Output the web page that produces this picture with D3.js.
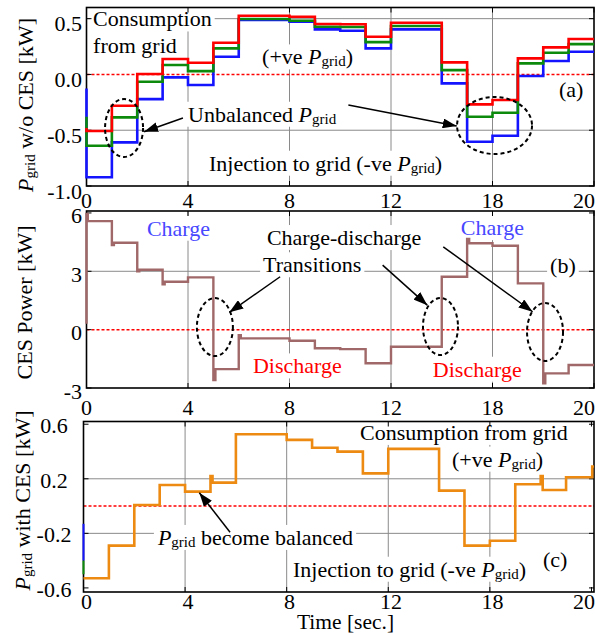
<!DOCTYPE html>
<html>
<head>
<meta charset="utf-8">
<script src="https://cdn.jsdelivr.net/npm/d3@7/dist/d3.min.js"></script>
<style>
html,body{margin:0;padding:0;background:#fff;}
svg{display:block;font-family:"Liberation Serif","Times New Roman",Times,serif;}
</style>
</head>
<body>
<svg id="chart" width="595" height="633"></svg>
<script>
// ---------------- data ----------------
const xTickValues = [0, 4, 8, 12, 16, 20];
const xTickLabels = ["0", "4", "8", "12", "18", "20"];

// (a) P_grid without CES [kW] — step start times (first entry = initial transient)
const timeA = [0, 0, 1, 2, 3, 4, 5, 6, 7, 8, 9, 10, 11, 12, 13, 14, 15, 16, 17, 18, 19];
const gridRed   = [-0.48, -0.507, -0.28, 0.004, 0.138, 0.105, 0.284, 0.526, 0.526, 0.517, 0.452, 0.45, 0.338, 0.463, 0.463, 0.108, -0.268, -0.229, 0.144, 0.243, 0.317];
const gridGreen = [-0.38, -0.639, -0.385, -0.065, 0.084, 0.030, 0.234, 0.497, 0.497, 0.481, 0.428, 0.425, 0.290, 0.434, 0.434, 0.039, -0.379, -0.343, 0.099, 0.195, 0.272];
const gridBlue  = [-0.125, -0.922, -0.609, -0.221, -0.026, -0.095, 0.159, 0.488, 0.488, 0.472, 0.404, 0.392, 0.234, 0.404, 0.404, -0.080, -0.603, -0.549, -0.014, 0.120, 0.203];
const yTicksA  = [0.5, 0, -0.5, -1.0];
const yLabelsA = ["0.5", "0.0", "-0.5", "-1.0"];

// (b) CES power [kW]
const timeB    = [0, 0, 0.05, 1, 1.08, 2, 2.08, 3, 3.08, 4, 5, 5.08, 6, 6.08, 8, 9, 10, 11, 12, 14, 15, 15.08, 16, 17, 18, 18.08, 19];
const cesPower = [0.3, 5.95, 5.58, 4.35, 4.47, 3.0, 3.08, 2.33, 2.46, 2.69, -2.59, -2.03, -0.28, -0.45, -0.57, -0.96, -1.0, -1.73, -0.88, 2.72, 4.66, 4.44, 4.31, 2.38, -2.76, -2.25, -1.82];
const yTicksB  = [6, 3, 0, -3];
const yLabelsB = ["6", "3", "0", "-3"];

// (c) P_grid with CES [kW]
const timeC       = [0, 1, 2, 3, 4, 5, 5.08, 6, 8, 9, 10, 11, 12, 14, 15, 16, 17, 18, 18.08, 19, 20.03];
const gridWithCES = [-0.529, -0.290, 0.008, 0.155, 0.106, 0.22, 0.172, 0.526, 0.485, 0.428, 0.399, 0.240, 0.419, 0.113, -0.290, -0.254, 0.160, 0.22, 0.118, 0.211, 0.29];
const transientBlueC  = [-0.13, -0.40];
const transientGreenC = [-0.40, -0.50];
const yTicksC  = [0.6, 0.2, -0.2, -0.6];
const yLabelsC = ["0.6", "0.2", "-0.2", "-0.6"];

// ---------------- drawing ----------------
const FONT = 22, SUB = 15;
const svg = d3.select('#chart');
svg.append('defs').append('marker')
  .attr('id', 'ah').attr('viewBox', '0 0 14 10').attr('refX', 14).attr('refY', 5)
  .attr('markerWidth', 14).attr('markerHeight', 10).attr('markerUnits', 'userSpaceOnUse')
  .attr('orient', 'auto')
  .append('path').attr('d', 'M0,0L14,5L0,10Z').attr('fill', '#000');

const xA = d3.scaleLinear().domain([0, 20]).range([86.5, 594]);
const xC = d3.scaleLinear().domain([0, 20.1]).range([83.5, 594]);
const yA = d3.scaleLinear().domain([-1.0, 0.6]).range([186, 7.5]);
const yB = d3.scaleLinear().domain([-3, 6.1]).range([388, 211]);
const yC = d3.scaleLinear().domain([-0.63, 0.62]).range([592, 421.5]);

const panels = [
  {x: xA, y: yA, tEnd: 20,   yTicks: yTicksA, yLabels: yLabelsA, hGrid: [0.5, -0.5], labX: 82, anchor: 'end',    labDy: 12.5},
  {x: xA, y: yB, tEnd: 20,   yTicks: yTicksB, yLabels: yLabelsB, hGrid: [3],         labX: 82, anchor: 'end',    labDy: 10.5},
  {x: xC, y: yC, tEnd: 20.1, yTicks: yTicksC, yLabels: yLabelsC, hGrid: [0.2, -0.2], labX: 54, anchor: 'middle', labDy: 9}
];

panels.forEach(p => {
  p.gGrid = svg.append('g');
  p.gBg = svg.append('g');
  p.gFrame = svg.append('g');
  p.gData = svg.append('g');
  p.gText = svg.append('g');
  p.gAnn = svg.append('g');
  const [x0, x1] = p.x.range();
  const [yb, yt] = p.y.range();
  // gridlines
  p.gGrid.selectAll('line.v').data(xTickValues.filter(v => v > 0 && v < 20)).join('line')
    .attr('x1', d => p.x(d)).attr('x2', d => p.x(d)).attr('y1', yt).attr('y2', yb)
    .attr('stroke', '#8a8a8a').attr('stroke-width', 1);
  p.gGrid.selectAll('line.h').data(p.hGrid).join('line')
    .attr('x1', x0).attr('x2', x1).attr('y1', d => p.y(d)).attr('y2', d => p.y(d))
    .attr('stroke', '#8a8a8a').attr('stroke-width', 1);
  p.gGrid.append('line').attr('x1', x0).attr('x2', x1).attr('y1', p.y(0)).attr('y2', p.y(0))
    .attr('stroke', '#ff0000').attr('stroke-width', 1.5).attr('stroke-dasharray', '3,2');
  // frame
  p.gFrame.append('rect').attr('x', x0).attr('y', yt).attr('width', x1 - x0).attr('height', yb - yt)
    .attr('fill', 'none').attr('stroke', '#000').attr('stroke-width', 1.6);
  // inward ticks
  xTickValues.forEach(v => {
    p.gFrame.append('line').attr('x1', p.x(v)).attr('x2', p.x(v)).attr('y1', yt).attr('y2', yt + 5).attr('stroke', '#000');
    p.gFrame.append('line').attr('x1', p.x(v)).attr('x2', p.x(v)).attr('y1', yb).attr('y2', yb - 5).attr('stroke', '#000');
  });
  p.yTicks.forEach(v => {
    p.gFrame.append('line').attr('x1', x0).attr('x2', x0 + 5).attr('y1', p.y(v)).attr('y2', p.y(v)).attr('stroke', '#000');
    p.gFrame.append('line').attr('x1', x1).attr('x2', x1 - 5).attr('y1', p.y(v)).attr('y2', p.y(v)).attr('stroke', '#000');
  });
  // y tick labels
  p.gText.selectAll('text.yl').data(p.yTicks).join('text')
    .attr('x', p.labX).attr('y', d => p.y(d) + p.labDy)
    .attr('text-anchor', p.anchor).attr('font-size', FONT).attr('fill', '#000')
    .text((d, i) => p.yLabels[i]);
});

// x tick label rows (last label right-aligned to the picture edge)
const rowBaselines = [208, 415, 609];
const lastIdx = xTickValues.length - 1;
rowBaselines.forEach(b => {
  svg.append('g').selectAll('text').data(xTickValues).join('text')
    .attr('x', (d, i) => i === lastIdx ? xA(d) + 1 : xA(d))
    .attr('y', b)
    .attr('text-anchor', (d, i) => i === lastIdx ? 'end' : 'middle')
    .attr('font-size', FONT)
    .text((d, i) => xTickLabels[i]);
});
svg.append('text').attr('x', 345.5).attr('y', 629).attr('text-anchor', 'middle')
  .attr('font-size', 21.5).text('Time [sec.]');

// data lines
function stepPoints(times, vals, tEnd) {
  const pts = times.map((t, i) => [t, vals[i]]);
  pts.push([tEnd, vals[vals.length - 1]]);
  return pts;
}
function drawStep(p, times, vals, color, w) {
  const line = d3.line().x(d => p.x(d[0])).y(d => p.y(d[1])).curve(d3.curveStepAfter);
  p.gData.append('path').attr('d', line(stepPoints(times, vals, p.tEnd)))
    .attr('fill', 'none').attr('stroke', color).attr('stroke-width', w)
    .attr('stroke-linejoin', 'miter');
}
drawStep(panels[0], timeA, gridBlue, '#1414ff', 2.6);
drawStep(panels[0], timeA, gridGreen, '#0c8a0c', 2.6);
drawStep(panels[0], timeA, gridRed, '#ff0000', 2.6);
drawStep(panels[1], timeB, cesPower, '#a06868', 2.4);
// panel c initial transients
[[transientBlueC, '#1414ff'], [transientGreenC, '#0c8a0c']].forEach(([vals, col]) => {
  panels[2].gData.append('line')
    .attr('x1', xC(0)).attr('x2', xC(0)).attr('y1', yC(vals[0])).attr('y2', yC(vals[1]))
    .attr('stroke', col).attr('stroke-width', 2);
});
drawStep(panels[2], timeC, gridWithCES, '#ec8a12', 2.6);

// rich text helper
function rich(g, x, y, segs, color, anchor) {
  const t = g.append('text').attr('x', x).attr('y', y).attr('font-size', FONT)
    .attr('fill', color || '#000').attr('text-anchor', anchor || 'start');
  let shift = 0;
  segs.forEach(s => {
    const sp = t.append('tspan');
    if (Array.isArray(s) && s[0] === 'i') {
      sp.attr('font-style', 'italic').text(s[1]);
      if (shift) { sp.attr('dy', -shift); shift = 0; }
    } else if (Array.isArray(s) && s[0] === 'sub') {
      sp.attr('font-size', SUB).attr('dy', 2 - shift).text(s[1]); shift = 2;
    } else {
      sp.text(s);
      if (shift) { sp.attr('dy', -shift); shift = 0; }
    }
  });
  return t;
}

const P = ['i', 'P'], GRID = ['sub', 'grid'];
const annotations = [
  {panel: 0, t: 0.26, v: 0.43, segs: ['Consumption']},
  {panel: 0, t: 0.26, v: 0.19, segs: ['from grid']},
  {panel: 0, t: 6.92, v: 0.09, segs: ['(+ve ', P, GRID, ')']},
  {panel: 0, t: 4.0, v: -0.424, segs: ['Unbalanced ', P, GRID]},
  {panel: 0, t: 4.83, v: -0.863, segs: ['Injection to grid (-ve ', P, GRID, ')']},
  {panel: 0, t: 18.62, v: -0.205, segs: ['(a)']},
  {panel: 1, t: 2.38, v: 4.83, segs: ['Charge'], color: '#4848ff'},
  {panel: 1, t: 14.75, v: 4.86, segs: ['Charge'], color: '#4848ff'},
  {panel: 1, t: 7.11, v: 4.35, segs: ['Charge-discharge']},
  {panel: 1, t: 6.96, v: 2.95, segs: ['Transitions']},
  {panel: 1, t: 18.27, v: 2.89, segs: ['(b)']},
  {panel: 1, t: 6.56, v: -2.25, segs: ['Discharge'], color: '#ff0000'},
  {panel: 1, t: 13.65, v: -2.42, segs: ['Discharge'], color: '#ff0000'},
  {panel: 2, t: 10.89, v: 0.485, segs: ['Consumption from grid']},
  {panel: 2, t: 14.51, v: 0.289, segs: ['(+ve ', P, GRID, ')']},
  {panel: 2, t: 2.93, v: -0.285, segs: [P, GRID, ' become balanced']},
  {panel: 2, t: 8.25, v: -0.518, segs: ['Injection to grid (-ve ', P, GRID, ')']},
  {panel: 2, t: 18.09, v: -0.444, segs: ['(c)']}
];
annotations.forEach(a => {
  const p = panels[a.panel];
  const t = rich(p.gText, p.x(a.t), p.y(a.v), a.segs, a.color);
  const bb = t.node().getBBox();
  p.gBg.append('rect').attr('x', bb.x - 3).attr('y', bb.y).attr('width', bb.width + 6)
    .attr('height', bb.height).attr('fill', '#fff');
});

const ellipses = [
  {panel: 0, t: 1.48, v: -0.48, rx: 19, ry: 29},
  {panel: 0, t: 16.08, v: -0.458, rx: 37.5, ry: 28.5},
  {panel: 1, t: 5.06, v: 0.13, rx: 18, ry: 29},
  {panel: 1, t: 13.95, v: 0.16, rx: 17.5, ry: 28.5},
  {panel: 1, t: 18.07, v: -0.12, rx: 18, ry: 29}
];
ellipses.forEach(e => {
  const p = panels[e.panel];
  p.gAnn.append('ellipse').attr('cx', p.x(e.t)).attr('cy', p.y(e.v))
    .attr('rx', e.rx).attr('ry', e.ry).attr('fill', 'none')
    .attr('stroke', '#000').attr('stroke-width', 2).attr('stroke-dasharray', '4,3');
});

const arrows = [
  {panel: 0, t1: 3.80, v1: -0.391, t2: 2.27, v2: -0.514},
  {panel: 0, t1: 10.32, v1: -0.274, t2: 14.59, v2: -0.463},
  {panel: 1, t1: 7.63, v1: 2.72, t2: 5.63, v2: 0.89},
  {panel: 1, t1: 11.67, v1: 3.32, t2: 13.43, v2: 1.26},
  {panel: 1, t1: 14.06, v1: 4.26, t2: 17.58, v2: 0.92},
  {panel: 2, t1: 5.77, v1: -0.192, t2: 4.56, v2: 0.098}
];
arrows.forEach(a => {
  const p = panels[a.panel];
  p.gAnn.append('line').attr('x1', p.x(a.t1)).attr('y1', p.y(a.v1))
    .attr('x2', p.x(a.t2)).attr('y2', p.y(a.v2))
    .attr('stroke', '#000').attr('stroke-width', 1.5).attr('marker-end', 'url(#ah)');
});

// y axis titles
function yTitle(x, y, segs) {
  const g = svg.append('g').attr('transform', `translate(${x},${y}) rotate(-90)`);
  rich(g, 0, 0, segs, '#000', 'middle');
}
yTitle(33, 105, [P, GRID, ' w/o CES [kW]']);
yTitle(32, 302.5, ['CES Power [kW]']);
yTitle(30, 500.5, [P, GRID, ' with CES [kW]']);
</script>
</body>
</html>
